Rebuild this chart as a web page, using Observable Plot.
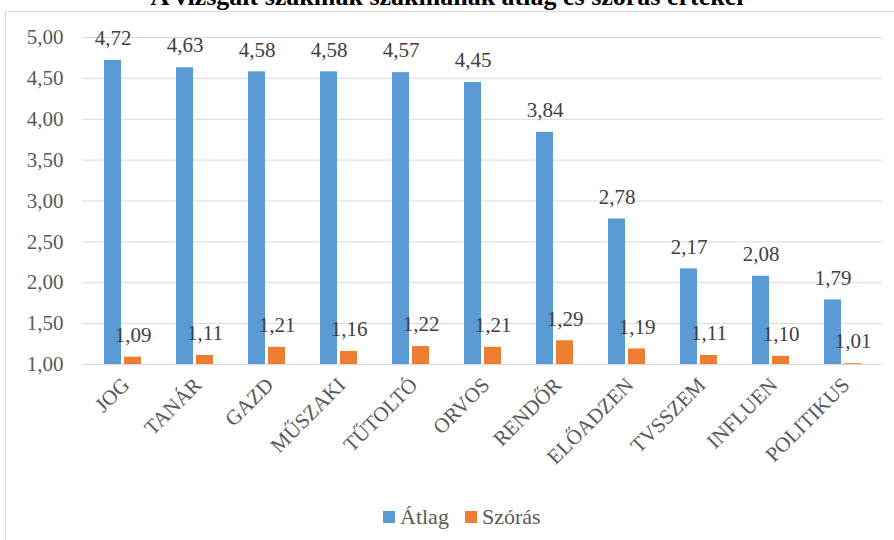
<!DOCTYPE html>
<html>
<head>
<meta charset="utf-8">
<script src="https://cdn.jsdelivr.net/npm/d3@7"></script>
<script src="https://cdn.jsdelivr.net/npm/@observablehq/plot@0.6"></script>
<style>
  html, body { margin: 0; padding: 0; background: #fff; overflow: hidden; }
  body { width: 894px; height: 540px; position: relative; font-family: "Liberation Serif", serif; }
  #frame { position: absolute; left: 5px; top: 11px; width: 900px; height: 600px; border: 1px solid #d9d9d9; box-sizing: border-box; }
  #title { position: absolute; left: 0; width: 894px; top: -18px; line-height: 1; text-align: center; font: bold 26px "Liberation Serif", serif; color: #000; white-space: nowrap; }
  #chart { position: absolute; left: 0; top: 0; }
  #chart svg text { font-family: "Liberation Serif", serif !important; }
  #legend { position: absolute; left: 383px; top: 503px; display: flex; align-items: center; font: 22px "Liberation Serif", serif; color: #595959; line-height: 28px; }
  .sw { display: inline-block; width: 12px; height: 12px; margin-right: 5px; }
  .item { display: flex; align-items: center; margin-right: 16px; }
</style>
</head>
<body>
<div id="frame"></div>
<div id="title">A vizsgált szakmák szakmának átlag és szórás értékei</div>
<div id="chart"></div>
<div id="legend"><span class="item"><span class="sw" style="background:#5B9BD5"></span>Átlag</span><span class="item"><span class="sw" style="background:#ED7D31"></span>Szórás</span></div>
<script>
const categories = ["JOG","TANÁR","GAZD","MŰSZAKI","TŰTOLTÓ","ORVOS","RENDŐR","ELŐADZEN","TVSSZEM","INFLUEN","POLITIKUS"];
const atlag = [4.72,4.63,4.58,4.58,4.57,4.45,3.84,2.78,2.17,2.08,1.79];
const szoras = [1.09,1.11,1.21,1.16,1.22,1.21,1.29,1.19,1.11,1.10,1.01];
const yTicks = [1,1.5,2,2.5,3,3.5,4,4.5,5];

const fmt = v => d3.format(".2f")(v).replace(".", ",");
const A = categories.map((c,i)=>({cat:c, value:atlag[i]}));
const S = categories.map((c,i)=>({cat:c, value:szoras[i]}));
const FF = "Liberation Serif, serif";

const chart = Plot.plot({
  width: 894, height: 490,
  marginLeft: 82, marginRight: 12, marginTop: 37, marginBottom: 126,
  style: {fontFamily: FF, background: "transparent"},
  x: {domain: categories, paddingInner: 0.49, paddingOuter: 0.26, label: null},
  y: {domain: [1,5], label: null},
  marks: [
    Plot.ruleY(yTicks, {stroke: "#d9d9d9", strokeWidth: 1}),
    Plot.barY(A, {x: "cat", y1: 1, y2: "value", fill: "#5B9BD5", insetLeft: 0, insetRight: 20}),
    Plot.barY(S, {x: "cat", y1: 1, y2: "value", fill: "#ED7D31", insetLeft: 20, insetRight: 0}),
    Plot.text(A, {x: "cat", y: "value", text: d => fmt(d.value), dx: -10, dy: -22, fontSize: 21, fontFamily: FF, fill: "#404040"}),
    Plot.text(S, {x: "cat", y: "value", text: d => fmt(d.value), dx: 10, dy: -22, fontSize: 21, fontFamily: FF, fill: "#404040"}),
    Plot.axisY({ticks: yTicks, tickFormat: fmt, tickSize: 0, tickPadding: 19, fontSize: 21, fontFamily: FF, fill: "#595959", label: null}),
    Plot.axisX({tickRotate: -45, tickSize: 0, tickPadding: 6, dx: 3, dy: 11, fontSize: 21, fontFamily: FF, fill: "#595959", label: null})
  ]
});
document.getElementById("chart").appendChild(chart);
</script>
</body>
</html>
